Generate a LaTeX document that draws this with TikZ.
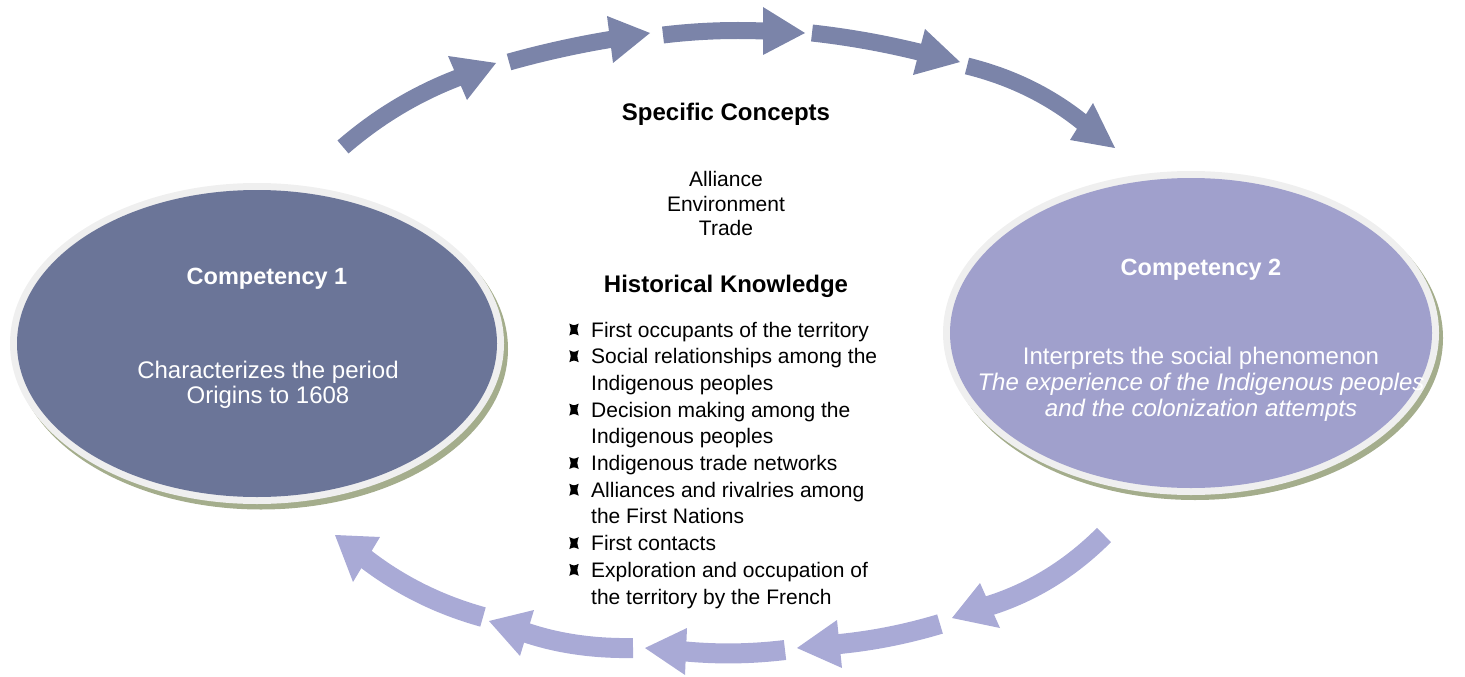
\documentclass[tikz,border=0pt]{standalone}
\usepackage{fontspec}
\setmainfont{Liberation Sans}
\usetikzlibrary{calc,shapes.geometric}

\definecolor{compone}{HTML}{6B7598}
\definecolor{comptwo}{HTML}{A0A0CC}
\definecolor{rimgray}{HTML}{EFEFEF}
\definecolor{shadowgreen}{HTML}{A4AD8C}
\definecolor{arrowtop}{HTML}{7B84A9}
\definecolor{arrowbottom}{HTML}{A9AAD6}

% one curved cycle arrow: quadratic band from tail (#2t) bent towards (#2c),
% ending at the middle of the head base; head is (#2a)-(#2p)-(#2b)
\newcommand\cyclearrow[2]{%
  \coordinate (#2m) at ($(#2a)!0.5!(#2b)$);
  \draw[#1] (#2t) .. controls ($(#2t)!0.667!(#2c)$) and ($(#2m)!0.667!(#2c)$)
      .. (#2m) -- ($(#2m)!3pt!(#2p)$);
  \fill[#1] (#2a) -- (#2p) -- (#2b) -- cycle;
}

\tikzset{
  toparrow/.style={color=arrowtop, line width=17pt},
  bottomarrow/.style={color=arrowbottom, line width=20pt},
  ovalshadow/.style={ellipse, fill=shadowgreen, inner sep=0pt},
  ovalrim/.style={ellipse, fill=rimgray, inner sep=0pt},
  ovalfill/.style={ellipse, inner sep=0pt},
  ovaltitle/.style={anchor=base, text=white, inner sep=0pt, font=\bfseries\fontsize{23.5}{28}\selectfont},
  ovaltext/.style={anchor=base, text=white, inner sep=0pt, font=\fontsize{24}{28}\selectfont},
  heading/.style={anchor=base, inner sep=0pt, font=\bfseries\fontsize{24}{28}\selectfont},
  concept/.style={anchor=base, inner sep=0pt, font=\fontsize{21}{25}\selectfont},
  listline/.style={anchor=base west, inner sep=0pt, font=\fontsize{21}{25}\selectfont},
  kbullet/.pic={\fill (-4.7,-6) .. controls (0,-3.8) .. (4.7,-6)
      .. controls (2.9,0) .. (4.7,6) .. controls (0,3.8) .. (-4.7,6)
      .. controls (-2.9,0) .. cycle;}
}

\begin{document}
\begin{tikzpicture}[x=1pt,y=-1pt]
\useasboundingbox (0,0) rectangle (1465,677);

% ---- Competency 1 oval ----
\node[ovalshadow, minimum width=494pt, minimum height=321pt] (c1shadow) at (261,349) {};
\node[ovalrim, minimum width=494pt, minimum height=321pt] (c1rim) at (257,343.5) {};
\node[ovalfill, fill=compone, minimum width=480pt, minimum height=307pt] (c1) at (257,343.5) {};
\node[ovaltitle] (c1title) at (267,284.5) {Competency 1};
\node[ovaltext] (c1line1) at (268,378) {Characterizes the period};
\node[ovaltext] (c1line2) at (268,403) {Origins to 1608};

% ---- Competency 2 oval ----
\node[ovalshadow, minimum width=496pt, minimum height=324pt] (c2shadow) at (1195,338) {};
\node[ovalrim, minimum width=496pt, minimum height=324pt] (c2rim) at (1191,333) {};
\node[ovalfill, fill=comptwo, minimum width=482pt, minimum height=310pt] (c2) at (1191,333) {};
\node[ovaltitle] (c2title) at (1201,275) {Competency 2};
\node[ovaltext] (c2line1) at (1201,364) {Interprets the social phenomenon};
\node[ovaltext, font=\itshape\fontsize{24}{28}\selectfont] (c2line2) at (1201,390) {The experience of the Indigenous peoples};
\node[ovaltext, font=\itshape\fontsize{24}{28}\selectfont] (c2line3) at (1201,416) {and the colonization attempts};

% ---- centre column ----
\node[heading] (spec) at (726,121) {Specific Concepts};
\node[concept] (k1) at (726,186) {Alliance};
\node[concept] (k2) at (726,211) {Environment};
\node[concept] (k3) at (726,235.5) {Trade};
\node[heading] (hist) at (726,292) {Historical Knowledge};

\foreach \txt [count=\i from 0] in {
  First occupants of the territory,
  Social relationships among the,
  Indigenous peoples,
  Decision making among the,
  Indigenous peoples,
  Indigenous trade networks,
  Alliances and rivalries among,
  the First Nations,
  First contacts,
  Exploration and occupation of,
  the territory by the French}
  \node[listline] (h\i) at (591,{337+26.7*\i}) {\txt};

\foreach \i in {0,1,3,5,6,8,9}
  \pic at (574,{329.5+26.7*\i}) {kbullet};

% ---- upper arrows (Competency 1 -> Competency 2) ----
\coordinate (u1t) at (343,147);  \coordinate (u1c) at (395,102);
\coordinate (u1a) at (448,56);   \coordinate (u1p) at (496,63);  \coordinate (u1b) at (467,100);
\coordinate (u2t) at (509,62);   \coordinate (u2c) at (559,48);
\coordinate (u2a) at (607,16);   \coordinate (u2p) at (650,33);  \coordinate (u2b) at (613,63);
\coordinate (u3t) at (663,35);   \coordinate (u3c) at (713,29);
\coordinate (u3a) at (763,7);    \coordinate (u3p) at (805,33);  \coordinate (u3b) at (763,55);
\coordinate (u4t) at (812,33);   \coordinate (u4c) at (866,39);
\coordinate (u4a) at (925,29);   \coordinate (u4p) at (960,62);  \coordinate (u4b) at (913,75);
\coordinate (u5t) at (967,66);   \coordinate (u5c) at (1032,82);
\coordinate (u5a) at (1093,103); \coordinate (u5p) at (1115,148); \coordinate (u5b) at (1070,140);
\foreach \a in {u1,u2,u3,u4,u5} { \cyclearrow{toparrow}{\a} }

% ---- lower arrows (Competency 2 -> Competency 1) ----
\coordinate (d1t) at (1104,535); \coordinate (d1c) at (1054,585);
\coordinate (d1a) at (980,583);  \coordinate (d1p) at (952,618); \coordinate (d1b) at (1000,628);
\coordinate (d2t) at (940,624);  \coordinate (d2c) at (890,639);
\coordinate (d2a) at (837,620);  \coordinate (d2p) at (797,648); \coordinate (d2b) at (842,668);
\coordinate (d3t) at (785,650);  \coordinate (d3c) at (735,656);
\coordinate (d3a) at (687,628);  \coordinate (d3p) at (645,648); \coordinate (d3b) at (685,675);
\coordinate (d4t) at (633,648);  \coordinate (d4c) at (575,649);
\coordinate (d4a) at (534,610);  \coordinate (d4p) at (489,621); \coordinate (d4b) at (520,656);
\coordinate (d5t) at (483,617);  \coordinate (d5c) at (418,599);
\coordinate (d5a) at (380,537);  \coordinate (d5p) at (335,535); \coordinate (d5b) at (353,582);
\foreach \a in {d1,d2,d3,d4,d5} { \cyclearrow{bottomarrow}{\a} }

\end{tikzpicture}
\end{document}
